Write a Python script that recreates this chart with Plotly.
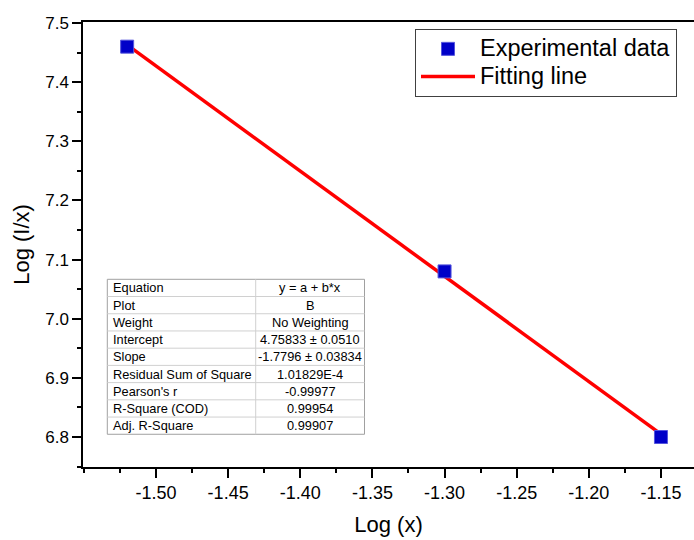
import plotly.graph_objects as go

# Data
exp_x = [-1.52, -1.30, -1.15]
exp_y = [7.46, 7.08, 6.80]
fit_x = [-1.52, -1.15]
fit_y = [7.463, 6.805]

x_tickvals = [-1.50, -1.45, -1.40, -1.35, -1.30, -1.25, -1.20, -1.15]
x_ticktext = ["-1.50", "-1.45", "-1.40", "-1.35", "-1.30", "-1.25", "-1.20", "-1.15"]
y_tickvals = [6.8, 6.9, 7.0, 7.1, 7.2, 7.3, 7.4, 7.5]
y_ticktext = ["6.8", "6.9", "7.0", "7.1", "7.2", "7.3", "7.4", "7.5"]

table_labels = ["Equation", "Plot", "Weight", "Intercept", "Slope",
                "Residual Sum of Square", "Pearson's r", "R-Square (COD)", "Adj. R-Square"]
table_values = ["y = a + b*x", "B", "No Weighting", "4.75833 ± 0.0510", "-1.7796 ± 0.03834",
                "1.01829E-4", "-0.99977", "0.99954", "0.99907"]

FONT = "Arial, Liberation Sans, sans-serif"

def big(s):
    return '<span style="font-size:23.5px">' + s + '</span>'

fig = go.Figure()

fig.add_trace(go.Scatter(
    x=fit_x, y=fit_y, mode="lines", name=big("Fitting line"),
    line=dict(color="#FF0000", width=3.5), legendrank=2,
))
fig.add_trace(go.Scatter(
    x=exp_x, y=exp_y, mode="markers", name=big("Experimental data"),
    marker=dict(symbol="square", size=13, color="#0000C8",
                line=dict(color="#5555dd", width=1)),
    legendrank=1,
))

W, H = 694, 540
ml, mr, mt, mb = 83, 0, 22, 73
pw, ph = W - ml - mr, H - mt - mb

def px_x(p):
    return (p - ml) / pw

def px_y(p):
    return (H - mb - p) / ph

# Stats table drawn as shapes + text
tx0, tx1, tdiv = 107.3, 364.5, 255.7
ty0, row_h = 279.3, 17.22
n = len(table_labels)
ty1 = ty0 + n * row_h
shapes = []
for i in range(1, n):
    yy = ty0 + i * row_h
    shapes.append(dict(type="line", xref="paper", yref="paper",
                       x0=px_x(tx0), x1=px_x(tx1), y0=px_y(yy), y1=px_y(yy),
                       line=dict(color="#d0d0d0", width=1)))
shapes.append(dict(type="line", xref="paper", yref="paper",
                   x0=px_x(tdiv), x1=px_x(tdiv), y0=px_y(ty0), y1=px_y(ty1),
                   line=dict(color="#d0d0d0", width=1)))
shapes.append(dict(type="rect", xref="paper", yref="paper", layer="below",
                   x0=px_x(tx0), x1=px_x(tx1), y0=px_y(ty1), y1=px_y(ty0),
                   fillcolor="white", line=dict(color="#a0a0a0", width=1)))

annotations = []
for i, (lbl, v) in enumerate(zip(table_labels, table_values)):
    yc = px_y(ty0 + (i + 0.5) * row_h)
    annotations.append(dict(text=lbl, xref="paper", yref="paper",
                            x=px_x(tx0 + 3.5), y=yc, xanchor="left", yanchor="middle",
                            showarrow=False, font=dict(family=FONT, size=12.8, color="black")))
    annotations.append(dict(text=v, xref="paper", yref="paper",
                            x=px_x((tdiv + tx1) / 2), y=yc, xanchor="center", yanchor="middle",
                            showarrow=False, font=dict(family=FONT, size=12.8, color="black")))

fig.update_layout(
    width=W, height=H,
    margin=dict(l=ml, r=mr, t=mt, b=mb, pad=0),
    paper_bgcolor="white", plot_bgcolor="white",
    font=dict(family=FONT, color="black"),
    showlegend=True,
    shapes=shapes,
    annotations=annotations,
    legend=dict(
        x=px_x(415), y=px_y(29), xanchor="left", yanchor="top",
        bordercolor="#404040", borderwidth=1, bgcolor="white",
        font=dict(family=FONT, size=19, color="black"),
        traceorder="normal", itemwidth=54,
    ),
    xaxis=dict(
        range=[-1.5506, -1.1271],
        tickvals=x_tickvals, ticktext=x_ticktext,
        ticks="outside", ticklen=9, tickwidth=1.5, tickcolor="black",
        minor=dict(dtick=0.025, tick0=-1.5, ticks="outside", ticklen=4.5, tickwidth=1.5, tickcolor="black"),
        showline=True, linecolor="black", linewidth=1.5, mirror=True,
        showgrid=False, zeroline=False,
        tickfont=dict(size=18, family=FONT),
        title=dict(text="Log (x)", font=dict(size=22, family=FONT), standoff=14),
    ),
    yaxis=dict(
        range=[6.7493, 7.5017],
        tickvals=y_tickvals, ticktext=y_ticktext,
        ticks="outside", ticklen=9, tickwidth=1.5, tickcolor="black",
        minor=dict(dtick=0.05, tick0=6.8, ticks="outside", ticklen=4.5, tickwidth=1.5, tickcolor="black"),
        showline=True, linecolor="black", linewidth=1.5, mirror=False,
        showgrid=False, zeroline=False,
        tickfont=dict(size=17, family=FONT),
        title=dict(text="Log (I/x)", font=dict(size=22, family=FONT), standoff=10),
    ),
)

fig.write_html("out.html")
